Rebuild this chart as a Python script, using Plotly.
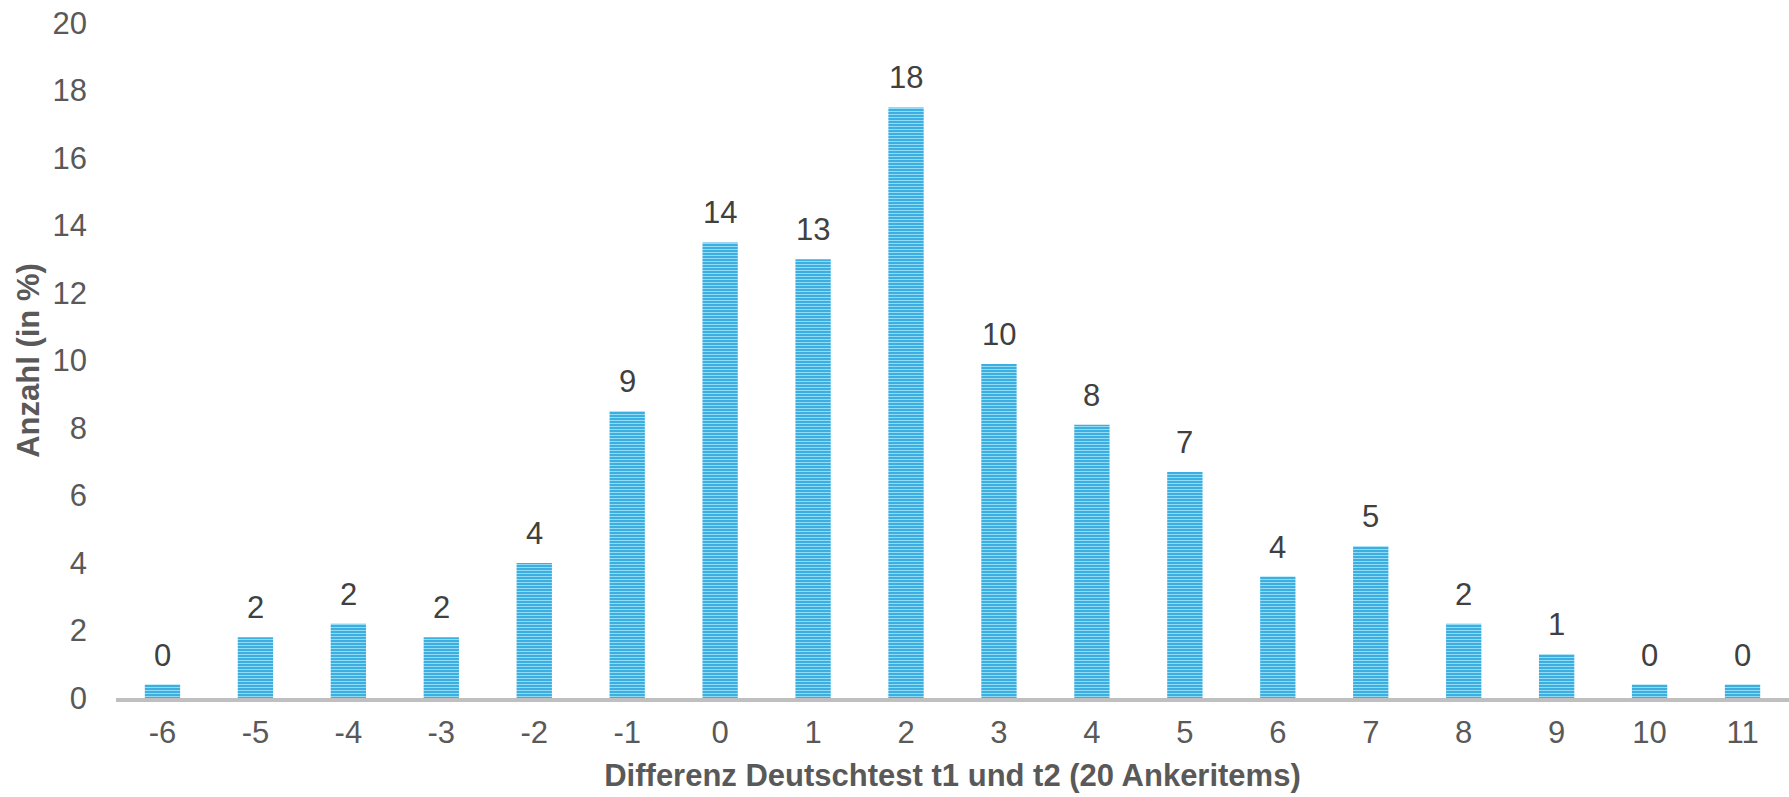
import plotly.graph_objects as go

categories = ["-6", "-5", "-4", "-3", "-2", "-1", "0", "1", "2", "3", "4", "5", "6", "7", "8", "9", "10", "11"]
values = [0.4, 1.8, 2.2, 1.8, 4.0, 8.5, 13.5, 13.0, 17.5, 9.9, 8.1, 6.7, 3.6, 4.5, 2.2, 1.3, 0.4, 0.4]
labels = ["0", "2", "2", "2", "4", "9", "14", "13", "18", "10", "8", "7", "4", "5", "2", "1", "0", "0"]
y_ticks = [0, 2, 4, 6, 8, 10, 12, 14, 16, 18, 20]

FONT = "Arial, Liberation Sans, sans-serif"

fig = go.Figure(go.Bar(
    x=categories,
    y=values,
    width=0.38,
    marker=dict(
        color="#1f9fd8",
        line=dict(width=0),
        pattern=dict(shape="-", fgcolor="#92dbf6", bgcolor="#1f9fd8",
                     size=3, solidity=0.5, fillmode="replace"),
    ),
))

# category axis: annotations placed by category index
for i, (v, t) in enumerate(zip(values, labels)):
    fig.add_annotation(x=i, y=v, text=t, showarrow=False, yanchor="bottom",
                       yshift=10, font=dict(family=FONT, size=31, color="#404040"))

fig.update_layout(
    width=1789, height=797,
    margin=dict(l=116, r=0, t=23, b=99),
    plot_bgcolor="white", paper_bgcolor="white",
    showlegend=False,
    bargap=0.62,
    font=dict(family=FONT, color="#595959"),
)
fig.update_xaxes(
    type="category",
    categoryorder="array", categoryarray=categories,
    showline=True, linecolor="#bfbfbf", linewidth=4,
    ticks="", showgrid=False,
    tickfont=dict(family=FONT, size=31, color="#595959"),
    ticklabelstandoff=4,
    title=dict(text="<b>Differenz Deutschtest t1 und t2 (20 Ankeritems)</b>",
               font=dict(family=FONT, size=31, color="#595959"), standoff=16),
)
fig.update_yaxes(
    range=[0, 20], tickvals=y_ticks,
    showline=False, showgrid=False, zeroline=False, ticks="",
    tickfont=dict(family=FONT, size=31, color="#595959"),
    ticklabelstandoff=28,
    title=dict(text="<b>Anzahl (in %)</b>",
               font=dict(family=FONT, size=31, color="#595959"), standoff=3),
)

fig.write_html("out.html")
